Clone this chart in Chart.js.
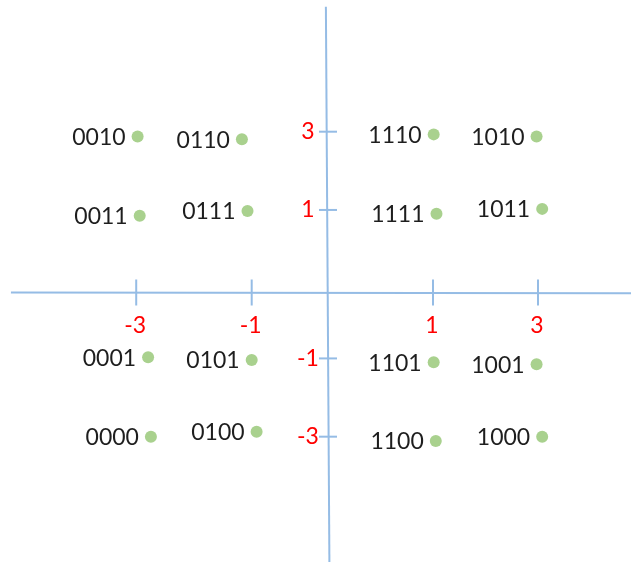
<!DOCTYPE html>
<html><head><meta charset="utf-8">
<script src="https://cdn.jsdelivr.net/npm/chart.js@4"></script>
<style>html,body{margin:0;padding:0;background:#fff}#wrap{width:631px;height:562px;position:relative}</style>
</head><body><div id="wrap"><canvas id="c"></canvas></div>
<script>
// 16-QAM constellation (positions, in drawing units)
const symbolBits = ['0010','0110','0011','0111','0001','0101','0000','0100','1110','1010','1111','1011','1101','1001','1100','1000'];
const symbolI    = [-2.72,-1.23,-2.69,-1.15,-2.57,-1.09,-2.53,-1.02, 1.51, 2.98, 1.55, 3.06, 1.51, 2.98, 1.54, 3.06];
const symbolQ    = [ 2.91, 2.86, 1.43, 1.52,-1.21,-1.26,-2.69,-2.60, 2.95, 2.91, 1.47, 1.56,-1.30,-1.34,-2.77,-2.69];

const iTickPos    = [-2.74, -1.09, 1.50, 3.00];
const iTickLabels = ['-3', '-1', '1', '3'];
const qTickPos    = [3.00, 1.54, -1.23, -2.69];
const qTickLabels = ['3', '1', '-1', '-3'];

const iAxisX = [-4.53, 4.33];
const iAxisY = [0.00, -0.015];
const qAxisX = [-0.03, 0.02];
const qAxisY = [5.33, -5.03];

const iRange = [-4.686, 4.329];
const qRange = [-5.028, 5.457];

const AXIS_COLOR = '#95BCE5';
const DOT_COLOR = '#A9D18E';

const pts = symbolI.map((x, i) => ({x, y: symbolQ[i]}));
const iTicks = iTickPos.map(x => ({x, y: 0}));
const qTicks = qTickPos.map(y => ({x: 0, y}));

const labelPlugin = {
  id: 'labels',
  afterDatasetsDraw(chart) {
    const ctx = chart.ctx;
    ctx.save();
    const pm = chart.getDatasetMeta(0);
    ctx.font = '23px Lato';
    ctx.fillStyle = '#1e1e1e';
    ctx.textAlign = 'right';
    ctx.textBaseline = 'middle';
    pm.data.forEach((el, i) => ctx.fillText(symbolBits[i], el.x - 12, el.y + 1));
    ctx.font = '23px Lato';
    ctx.fillStyle = '#FF0000';
    ctx.textAlign = 'center';
    const im = chart.getDatasetMeta(1);
    im.data.forEach((el, i) => ctx.fillText(iTickLabels[i], el.x - 1, el.y + 33));
    const qm = chart.getDatasetMeta(2);
    qm.data.forEach((el, i) => ctx.fillText(qTickLabels[i], el.x - 20, el.y));
    ctx.restore();
  }
};

new Chart(document.getElementById('c'), {
  type: 'scatter',
  data: {
    datasets: [
      {data: pts, pointRadius: 6, pointBackgroundColor: DOT_COLOR, pointBorderWidth: 0, showLine: false},
      {data: iTicks, pointStyle: 'line', pointRotation: 90, pointRadius: 13, pointBorderColor: AXIS_COLOR, pointBorderWidth: 2, showLine: false},
      {data: qTicks, pointStyle: 'line', pointRadius: 9, pointBorderColor: AXIS_COLOR, pointBorderWidth: 2, showLine: false},
      {data: iAxisX.map((x, i) => ({x, y: iAxisY[i]})), showLine: true, borderColor: AXIS_COLOR, borderWidth: 2, pointRadius: 0},
      {data: qAxisX.map((x, i) => ({x, y: qAxisY[i]})), showLine: true, borderColor: AXIS_COLOR, borderWidth: 2, pointRadius: 0}
    ]
  },
  options: {
    responsive: true,
    maintainAspectRatio: false,
    animation: false,
    events: [],
    layout: {padding: 0, autoPadding: false},
    plugins: {legend: {display: false}, tooltip: {enabled: false}},
    scales: {
      x: {type: 'linear', min: iRange[0], max: iRange[1], display: false},
      y: {type: 'linear', min: qRange[0], max: qRange[1], display: false}
    }
  },
  plugins: [labelPlugin]
});
</script></body></html>
